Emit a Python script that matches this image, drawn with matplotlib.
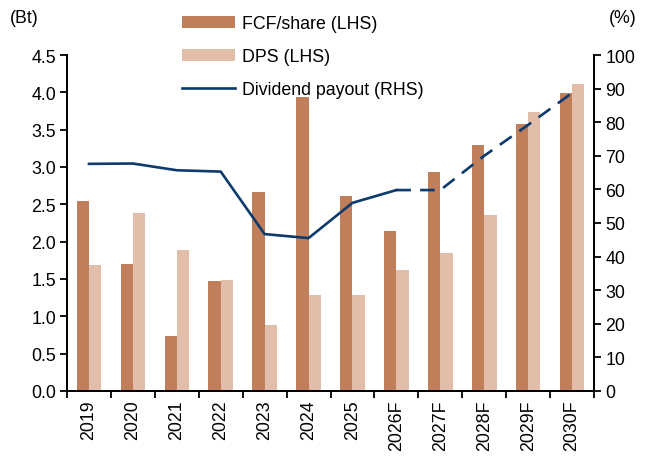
import matplotlib
matplotlib.use("Agg")
import matplotlib.pyplot as plt
import numpy as np

plt.rcParams['font.family'] = ['Liberation Sans', 'DejaVu Sans']

years = ["2019", "2020", "2021", "2022", "2023", "2024", "2025",
         "2026F", "2027F", "2028F", "2029F", "2030F"]
fcf_share = [2.55, 1.70, 0.73, 1.47, 2.67, 3.94, 2.61, 2.14, 2.93, 3.29, 3.58, 3.99]
dps = [1.69, 2.39, 1.89, 1.49, 0.89, 1.29, 1.29, 1.62, 1.85, 2.36, 3.74, 4.11]
payout = [67.6, 67.7, 65.7, 65.3, 46.7, 45.5, 56.0, 59.8, 59.8, 70.0, 79.2, 88.7]
n_actual = 8  # solid through 2026F

c_fcf = "#C07E5A"
c_dps = "#E1BDAA"
c_line = "#0B3A6E"
fs = 12.8

fig = plt.figure(figsize=(6.48, 4.64), dpi=100)
ax = fig.add_axes([0.1034, 0.1552, 0.8133, 0.7241])
ax2 = ax.twinx()

x = np.arange(len(years))
w = 0.28
b1 = ax.bar(x - w / 2, fcf_share, w, color=c_fcf, label="FCF/share (LHS)", zorder=2)
b2 = ax.bar(x + w / 2, dps, w, color=c_dps, label="DPS (LHS)", zorder=2)

ax2.plot(x[:n_actual], payout[:n_actual], color=c_line, lw=1.9, zorder=3)
ax2.plot(x[n_actual - 1:], payout[n_actual - 1:], color=c_line, lw=1.9,
         dashes=(5.5, 3.5), zorder=3)

ax.set_xlim(-0.5, len(years) - 0.5)
ax.set_ylim(0, 4.5)
ax2.set_ylim(0, 100)
ax.set_yticks(np.arange(0, 4.51, 0.5))
ax.set_yticklabels([f"{v:.1f}" for v in np.arange(0, 4.51, 0.5)], fontsize=fs)
ax2.set_yticks(np.arange(0, 101, 10))
ax2.set_yticklabels([str(v) for v in range(0, 101, 10)], fontsize=fs)

ax.set_xticks(np.arange(-0.5, len(years), 1.0))
ax.set_xticklabels([])
ax.set_xticks(x, minor=True)
ax.set_xticklabels(years, minor=True, rotation=90, fontsize=fs)
ax.tick_params(axis='x', which='major', direction='out', length=5, width=1.3)
ax.tick_params(axis='x', which='minor', length=0, pad=6)
ax.tick_params(axis='y', direction='out', length=5, width=1.3, pad=3)
ax2.tick_params(axis='y', direction='out', length=5, width=1.3, pad=3)

for a in (ax, ax2):
    a.spines['top'].set_visible(False)
    for s in ('left', 'right', 'bottom'):
        a.spines[s].set_linewidth(1.3)

ax2.set_zorder(ax.get_zorder() + 1)
ax2.patch.set_visible(False)

line_handle = matplotlib.lines.Line2D([], [], color=c_line, lw=1.9)
fig.legend([b1, b2, line_handle],
           ["FCF/share (LHS)", "DPS (LHS)", "Dividend payout (RHS)"],
           loc='upper left', bbox_to_anchor=(0.281, 0.965), frameon=False,
           fontsize=fs, handlelength=3.0, handletextpad=0.35, labelspacing=0.9,
           borderpad=0, borderaxespad=0)

fig.text(0.015, 0.96, "(Bt)", fontsize=fs, va='center', ha='left')
fig.text(0.94, 0.96, "(%)", fontsize=fs, va='center', ha='left')

fig.savefig("out.png", dpi=100)
